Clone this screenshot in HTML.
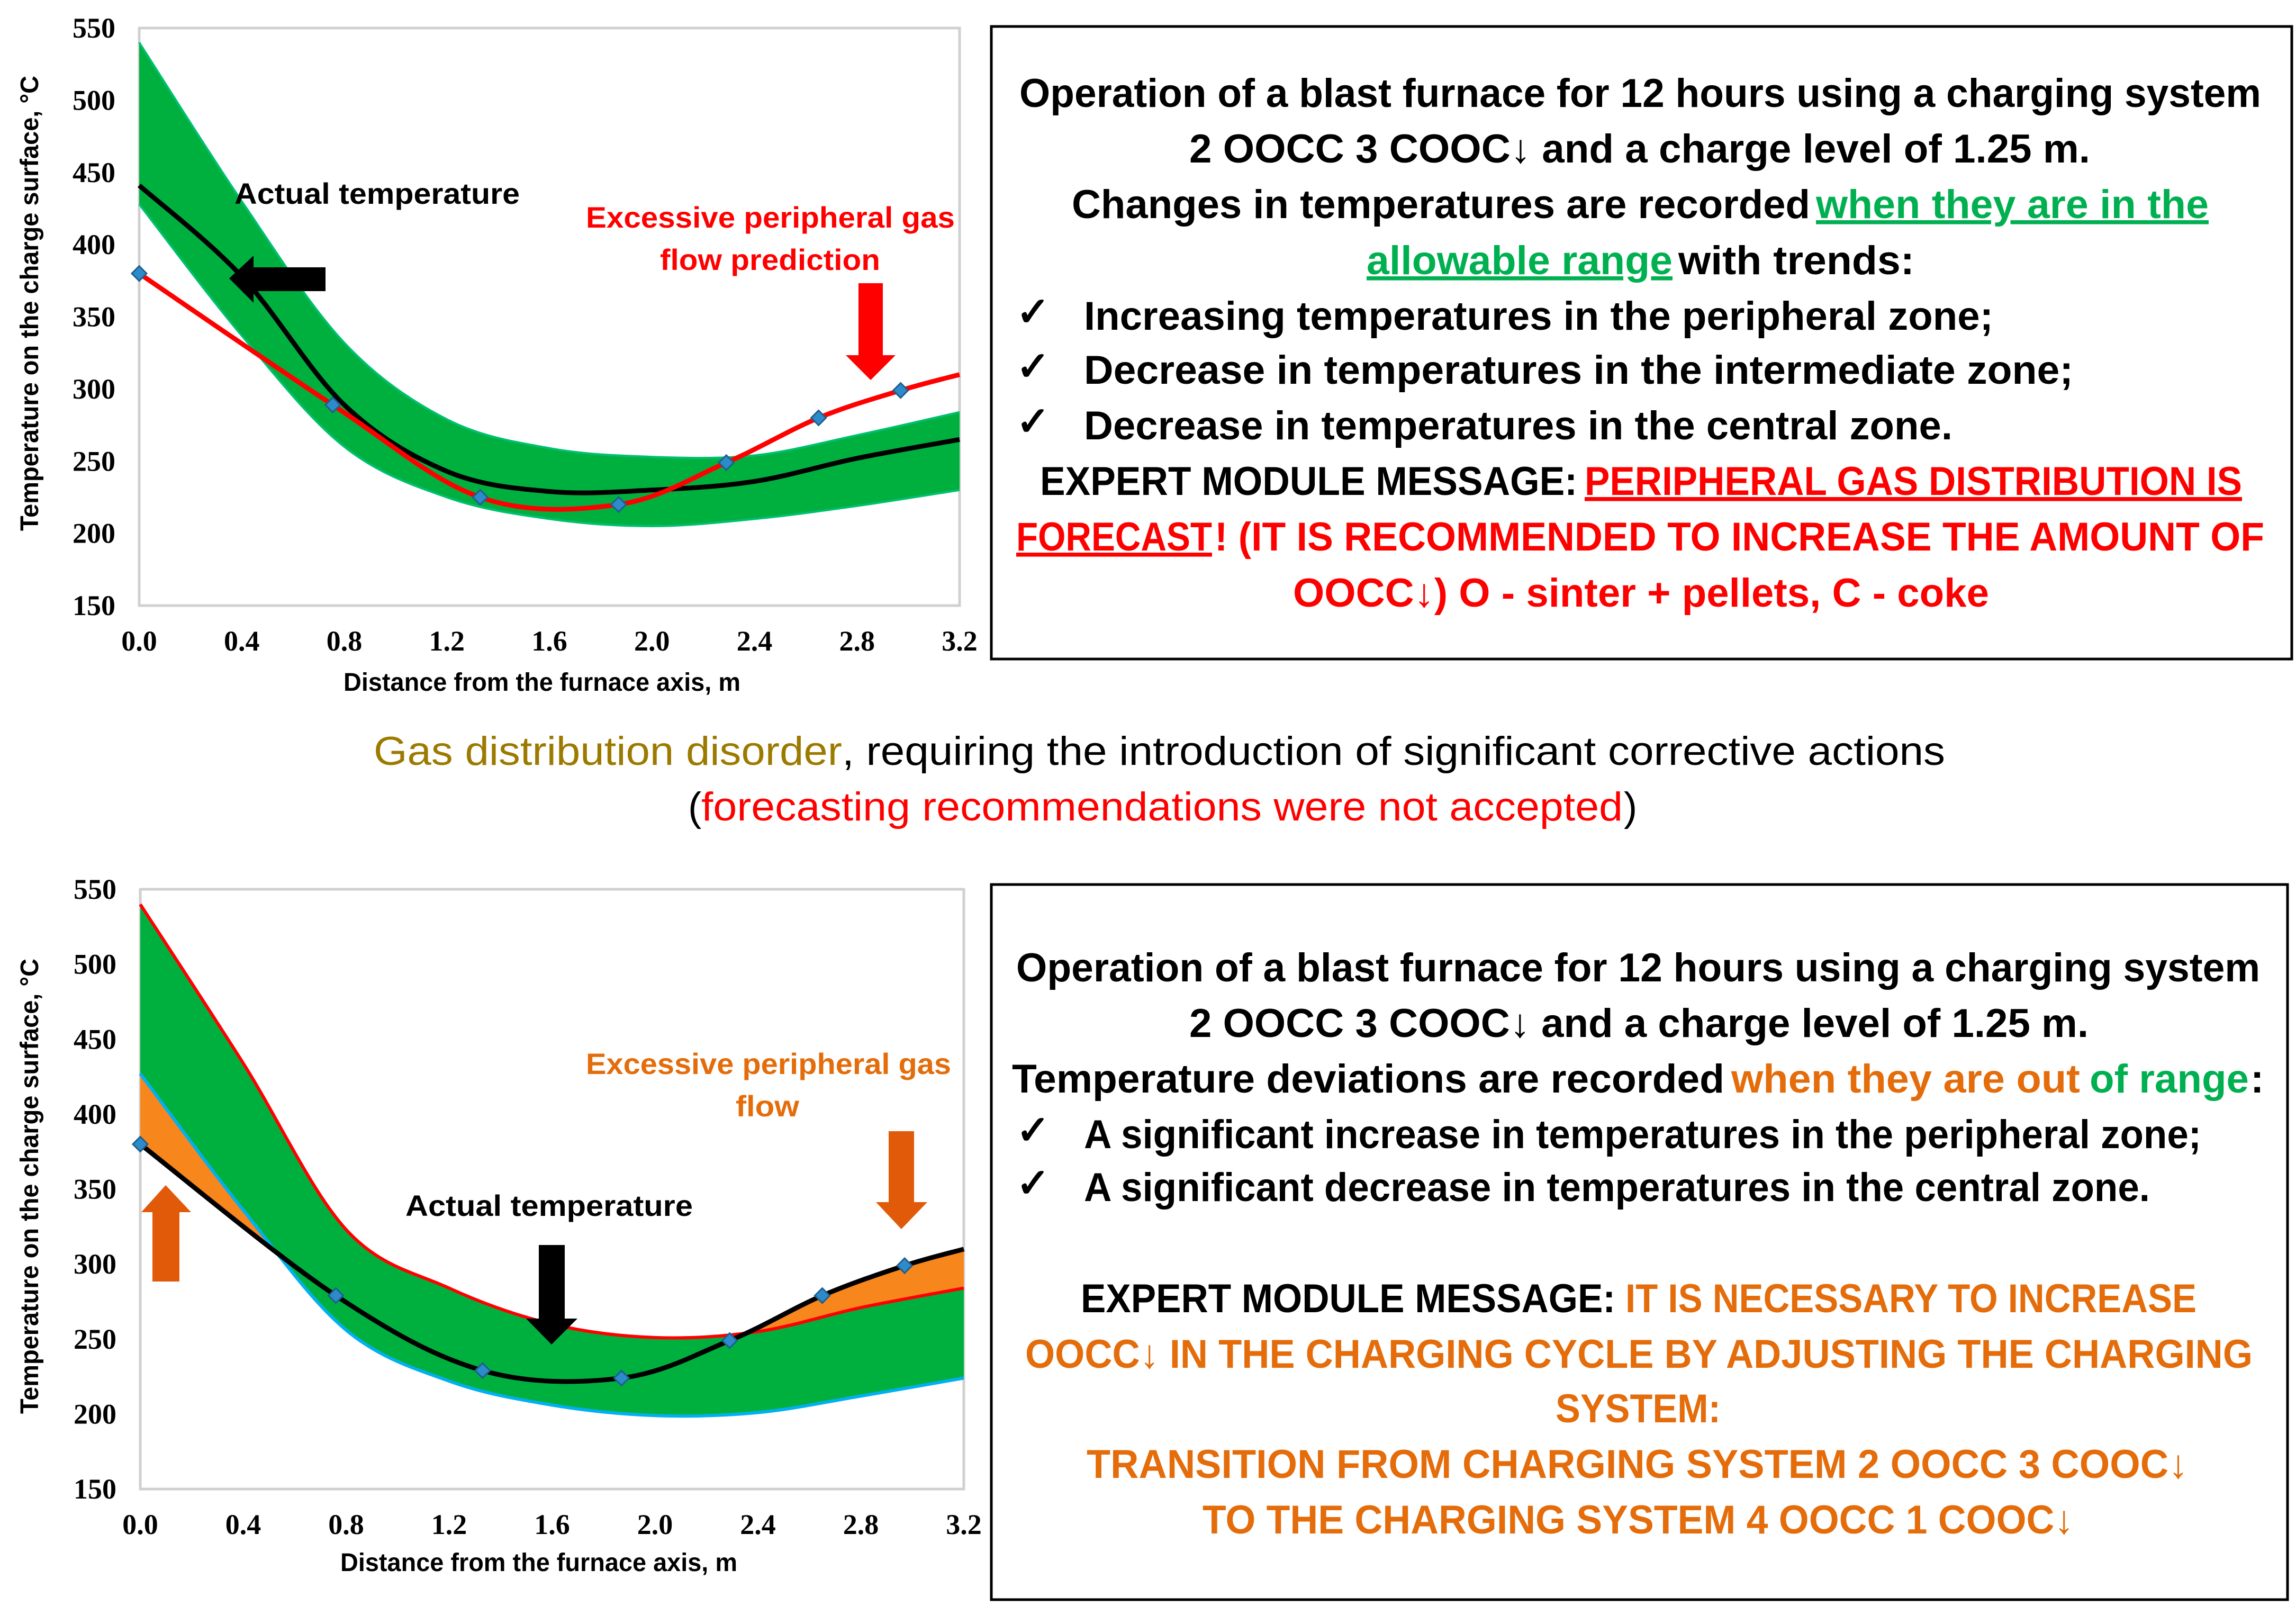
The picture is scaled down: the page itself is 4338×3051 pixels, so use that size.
<!DOCTYPE html>
<html><head><meta charset="utf-8"><style>
html,body{margin:0;padding:0;background:#fff;}
svg{display:block;}
.bx{font-family:"Liberation Sans Narrow","Liberation Sans",sans-serif;font-weight:bold;font-size:76px;}
.mid{font-family:"Liberation Sans Narrow","Liberation Sans",sans-serif;font-size:76px;}
.tk{font-family:"Liberation Serif",serif;font-weight:bold;font-size:54px;}
.ax{font-family:"Liberation Sans Narrow","Liberation Sans",sans-serif;font-weight:bold;font-size:48px;}
.lbl{font-family:"Liberation Sans",sans-serif;font-weight:bold;font-size:56px;}
</style></head><body>
<svg id="root" width="4338" height="3051" viewBox="0 0 4338 3051" xmlns="http://www.w3.org/2000/svg">
<g id="chart1"></g>
<g id="chart2"></g>

<g class="bx">
<rect x="1873" y="50" width="2457" height="1195" fill="none" stroke="#000" stroke-width="5"/>
<text x="1926" y="202" textLength="2346" lengthAdjust="spacingAndGlyphs">Operation of a blast furnace for 12 hours using a charging system</text>
<text x="2247" y="307" textLength="1702" lengthAdjust="spacingAndGlyphs">2 OOCC 3 COOC↓ and a charge level of 1.25 m.</text>
<text x="2025" y="412" textLength="1395" lengthAdjust="spacingAndGlyphs">Changes in temperatures are recorded</text>
<text x="3431" y="412" textLength="742" lengthAdjust="spacingAndGlyphs" fill="#00B050" text-decoration="underline">when they are in the</text>
<text x="2582" y="518" textLength="578" lengthAdjust="spacingAndGlyphs" fill="#00B050" text-decoration="underline">allowable range</text>
<text x="3171" y="518" textLength="446" lengthAdjust="spacingAndGlyphs">with trends:</text>
<text x="1920" y="615">✓</text>
<text x="2048" y="623" textLength="1718" lengthAdjust="spacingAndGlyphs">Increasing temperatures in the peripheral zone;</text>
<text x="1920" y="718">✓</text>
<text x="2048" y="725" textLength="1869" lengthAdjust="spacingAndGlyphs">Decrease in temperatures in the intermediate zone;</text>
<text x="1920" y="822">✓</text>
<text x="2048" y="830" textLength="1641" lengthAdjust="spacingAndGlyphs">Decrease in temperatures in the central zone.</text>
<text x="1965" y="935" textLength="1015" lengthAdjust="spacingAndGlyphs">EXPERT MODULE MESSAGE:</text>
<text x="2994" y="935" textLength="1242" lengthAdjust="spacingAndGlyphs" fill="#FF0000" text-decoration="underline">PERIPHERAL GAS DISTRIBUTION IS</text>
<text x="1920" y="1040" textLength="370" lengthAdjust="spacingAndGlyphs" fill="#FF0000" text-decoration="underline">FORECAST</text>
<text x="2295" y="1040" textLength="1983" lengthAdjust="spacingAndGlyphs" fill="#FF0000">! (IT IS RECOMMENDED TO INCREASE THE AMOUNT OF</text>
<text x="2443" y="1146" textLength="1315" lengthAdjust="spacingAndGlyphs" fill="#FF0000">OOCC↓) O - sinter + pellets, C - coke</text>
</g>

<g class="mid">
<text x="706" y="1445" textLength="885" lengthAdjust="spacingAndGlyphs" fill="#9C7A00">Gas distribution disorder</text>
<text x="1591" y="1445" textLength="2084" lengthAdjust="spacingAndGlyphs">, requiring the introduction of significant corrective actions</text>
<text x="1300" y="1550">(</text>
<text x="1325" y="1550" textLength="1741" lengthAdjust="spacingAndGlyphs" fill="#FF0000">forecasting recommendations were not accepted</text>
<text x="3068" y="1550">)</text>
</g>

<g class="bx">
<rect x="1873" y="1671" width="2449" height="1351" fill="none" stroke="#000" stroke-width="5"/>
<text x="1920" y="1854" textLength="2350" lengthAdjust="spacingAndGlyphs">Operation of a blast furnace for 12 hours using a charging system</text>
<text x="2247" y="1959" textLength="1699" lengthAdjust="spacingAndGlyphs">2 OOCC 3 COOC↓ and a charge level of 1.25 m.</text>
<text x="1912" y="2064" textLength="1346" lengthAdjust="spacingAndGlyphs">Temperature deviations are recorded</text>
<text x="3271" y="2064" textLength="659" lengthAdjust="spacingAndGlyphs" fill="#E46C0A">when they are out</text>
<text x="3948" y="2064" textLength="301" lengthAdjust="spacingAndGlyphs" fill="#00B050">of range</text>
<text x="4252" y="2064">:</text>
<text x="1920" y="2161">✓</text>
<text x="2048" y="2169" textLength="2111" lengthAdjust="spacingAndGlyphs">A significant increase in temperatures in the peripheral zone;</text>
<text x="1920" y="2261">✓</text>
<text x="2048" y="2269" textLength="2014" lengthAdjust="spacingAndGlyphs">A significant decrease in temperatures in the central zone.</text>
<text x="2042" y="2479" textLength="1010" lengthAdjust="spacingAndGlyphs">EXPERT MODULE MESSAGE:</text>
<text x="3071" y="2479" textLength="1079" lengthAdjust="spacingAndGlyphs" fill="#E46C0A">IT IS NECESSARY TO INCREASE</text>
<text x="1937" y="2584" textLength="2319" lengthAdjust="spacingAndGlyphs" fill="#E46C0A">OOCC↓ IN THE CHARGING CYCLE BY ADJUSTING THE CHARGING</text>
<text x="2939" y="2687" textLength="312" lengthAdjust="spacingAndGlyphs" fill="#E46C0A">SYSTEM:</text>
<text x="2053" y="2792" textLength="2081" lengthAdjust="spacingAndGlyphs" fill="#E46C0A">TRANSITION FROM CHARGING SYSTEM 2 OOCC 3 COOC↓</text>
<text x="2272" y="2897" textLength="1646" lengthAdjust="spacingAndGlyphs" fill="#E46C0A">TO THE CHARGING SYSTEM 4 OOCC 1 COOC↓</text>
</g>
</svg>
<script>
var xTicks = [0.0, 0.4, 0.8, 1.2, 1.6, 2.0, 2.4, 2.8, 3.2];
var yTicks = [150, 200, 250, 300, 350, 400, 450, 500, 550];
var bandX = [0.0, 0.4, 0.8, 1.2, 1.6, 2.0, 2.4, 2.8, 3.2];
var top_bandUpper = [540, 430, 332, 279, 259, 253, 254, 268, 284];
var top_bandLower = [428, 337, 260, 225, 210, 205, 210, 219, 230];
var top_actual = [441, 378, 289, 243, 229, 230, 236, 252, 265];
var top_predX = [0.0, 0.755, 1.33, 1.87, 2.29, 2.65, 2.97, 3.2];
var top_predY = [380, 289, 225, 220, 249, 280, 299, 310];
var top_markerIdx = [0, 1, 2, 3, 4, 5, 6];
var bot_bandUpper = [540, 434, 323, 284, 260, 251, 255, 271, 284];
var bot_bandLower = [427, 336, 256, 222, 206, 199, 201, 212, 224];
var bot_actX = [0.0, 0.76, 1.33, 1.87, 2.29, 2.65, 2.97, 3.2];
var bot_actY = [380, 279, 229, 224, 249, 279, 299, 310];
var bot_markerIdx = [0, 1, 2, 3, 4, 5, 6];

var NS = "http://www.w3.org/2000/svg";
function mk(tag, attrs, parent){ var e=document.createElementNS(NS,tag); for(var k in attrs) e.setAttribute(k,attrs[k]); parent.appendChild(e); return e; }
function spline(pts){
  var d="M"+pts[0][0]+","+pts[0][1];
  for(var i=0;i<pts.length-1;i++){
    var p0=pts[i-1]||pts[i], p1=pts[i], p2=pts[i+1], p3=pts[i+2]||p2;
    var c1x=p1[0]+(p2[0]-p0[0])/6, c1y=p1[1]+(p2[1]-p0[1])/6;
    var c2x=p2[0]-(p3[0]-p1[0])/6, c2y=p2[1]-(p3[1]-p1[1])/6;
    d+=" C"+c1x+","+c1y+" "+c2x+","+c2y+" "+p2[0]+","+p2[1];
  }
  return d;
}
function splineCont(pts){ return spline(pts).replace(/^M/,"L"); }

function drawChart(g, L, R, T, B, cfg){
  var sx=function(v){return L+(v-0)/(3.2)*(R-L);};
  var sy=function(v){return B-(v-150)/400*(B-T);};
  var frame=mk("rect",{x:L,y:T,width:R-L,height:B-T,fill:"none",stroke:"#d0d0d0","stroke-width":5},g);
  
  
  yTicks.forEach(function(v){
    var t=mk("text",{x:L-45,y:sy(v)+18,"text-anchor":"end","class":"tk"},g); t.textContent=v;
    
    
  });
  xTicks.forEach(function(v){
    var t=mk("text",{x:sx(v),y:B+85,"text-anchor":"middle","class":"tk"},g); t.textContent=v.toFixed(1);
    
    
  });
  var upPts=bandX.map(function(x,i){return [sx(x),sy(cfg.up[i])];});
  var loPts=bandX.map(function(x,i){return [sx(x),sy(cfg.lo[i])];});
  var lineX=cfg.lineX, lineY=cfg.lineY;
  var linePts=lineX.map(function(x,i){return [sx(x),sy(lineY[i])];});
  if(cfg.orange){
    var o=mk("path",{d:spline(linePts)+" "+splineCont(loPts.slice().reverse())+" Z",fill:"#F7861C",stroke:"none"},g);
    
    
  }
  var band=mk("path",{d:spline(upPts)+" "+splineCont(loPts.slice().reverse())+" Z",fill:"#00B03F",stroke:"none"},g);
  
  
  var ue=mk("path",{d:spline(upPts),fill:"none",stroke:cfg.upStroke,"stroke-width":cfg.edgeW},g);
  
  
  var le=mk("path",{d:spline(loPts),fill:"none",stroke:cfg.loStroke,"stroke-width":cfg.edgeW},g);
  
  
  if(cfg.black2){
    var a=mk("path",{d:spline(cfg.black2.map(function(v,i){return [sx(bandX[i]),sy(v)];})),fill:"none",stroke:"#000","stroke-width":9},g);
    
    
  }
  var ln=mk("path",{d:spline(linePts),fill:"none",stroke:cfg.lineColor,"stroke-width":9},g);
  
  
  cfg.markers.forEach(function(i){
    var cx=sx(lineX[i]), cy=sy(lineY[i]), r=14;
    var m=mk("polygon",{points:cx+","+(cy-r)+" "+(cx+r)+","+cy+" "+cx+","+(cy+r)+" "+(cx-r)+","+cy,fill:"#2E8BCB",stroke:"#1F5F8B","stroke-width":3},g);
    
    
  });
  var yt=mk("text",{x:0,y:0,"text-anchor":"middle","class":"ax",transform:"translate("+(cfg.ytX)+","+(cfg.ytY)+") rotate(-90)",textLength:860,lengthAdjust:"spacingAndGlyphs"},g);
  yt.textContent="Temperature on the charge surface, °C";
  
  
  var xt=mk("text",{x:cfg.xtX-375,y:cfg.xtY,"class":"ax",textLength:750,lengthAdjust:"spacingAndGlyphs"},g);
  xt.textContent="Distance from the furnace axis, m";
  
  
}

var g1=document.getElementById("chart1");
drawChart(g1,263,1813,53,1144,{up:top_bandUpper,lo:top_bandLower,lineX:top_predX,lineY:top_predY,lineColor:"#FF0000",lineName:"predicted-temperature-line",markers:top_markerIdx,upStroke:"#00C070",loStroke:"#00C070",edgeW:4,black2:top_actual,orange:false,ytX:72,ytY:573,xtX:1024,xtY:1305});
var g2=document.getElementById("chart2");
drawChart(g2,265,1821,1680,2813,{up:bot_bandUpper,lo:bot_bandLower,lineX:bot_actX,lineY:bot_actY,lineColor:"#000",lineName:"actual-temperature-line",markers:bot_markerIdx,upStroke:"#FF0000",loStroke:"#00B0F0",edgeW:6,orange:true,ytX:72,ytY:2241,xtX:1018,xtY:2968});

function arrow(g,pts,color,name){
  var p=mk("polygon",{points:pts,fill:color},g);
  
  
}
arrow(g1,"433,526 479,483 479,505 615,505 615,550 479,550 479,572","#000","actual-pointer-arrow");
arrow(g1,"1622,535 1668,535 1668,671 1692,671 1645,718 1598,671 1622,671","#FF0000","prediction-down-arrow");
arrow(g2,"288,2421 339,2421 339,2290 361,2290 313,2239 267,2290 288,2290","#E05A0A","orange-up-arrow");
arrow(g2,"1679,2137 1727,2137 1727,2271 1752,2271 1703,2322 1655,2271 1679,2271","#E05A0A","orange-down-arrow");
arrow(g2,"1018,2352 1067,2352 1067,2491 1091,2491 1042,2540 994,2491 1018,2491","#000","actual-down-arrow");

function label(g,x,y,len,txt,color,name){
  var t=mk("text",{x:x,y:y,"class":"lbl",fill:color,textLength:len,lengthAdjust:"spacingAndGlyphs"},g);
  t.textContent=txt;
  
  
}
label(g1,443,385,539,"Actual temperature","#000","actual-temperature-label");
label(g1,1107,430,697,"Excessive peripheral gas","#FF0000","prediction-label-line-1");
label(g1,1247,510,416,"flow prediction","#FF0000","prediction-label-line-2");
label(g2,1107,2029,690,"Excessive peripheral gas","#E46C0A","excess-flow-label-line-1");
label(g2,1390,2109,120,"flow","#E46C0A","excess-flow-label-line-2");
label(g2,766,2297,543,"Actual temperature","#000","actual-temperature-label");
</script>
</body></html>
